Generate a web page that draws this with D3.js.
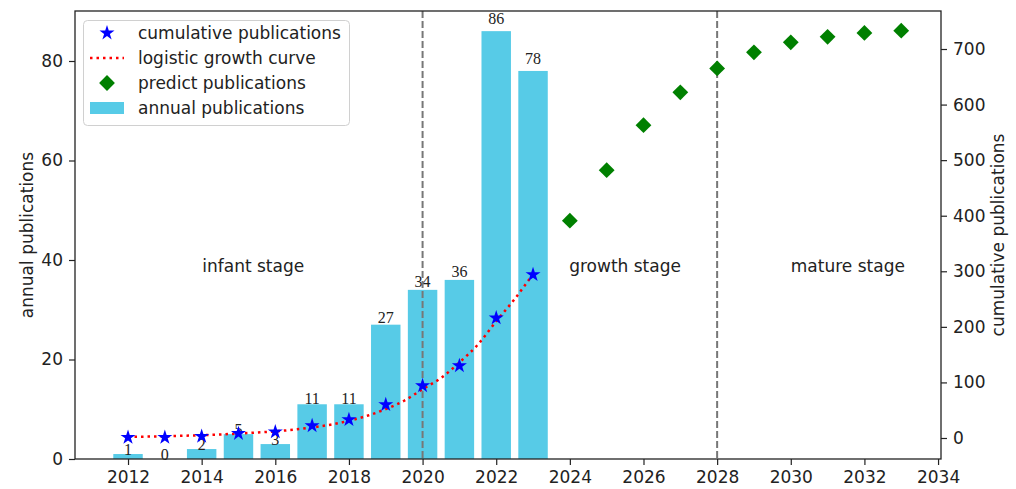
<!DOCTYPE html>
<html>
<head>
<meta charset="utf-8">
<script src="https://cdn.jsdelivr.net/npm/d3@7"></script>
<style>
body { margin: 0; background: #fff; }
text { font-family: "DejaVu Sans", sans-serif; fill: #222; }
</style>
</head>
<body>
<svg width="1016" height="489"></svg>
<script>
// data
var years = [2012, 2013, 2014, 2015, 2016, 2017, 2018, 2019, 2020, 2021, 2022, 2023];
var annual = [1, 0, 2, 5, 3, 11, 11, 27, 34, 36, 86, 78];
var cumulative = [1, 1, 3, 8, 11, 22, 33, 60, 94, 130, 216, 294];

var curveYears = [2012, 2012.5, 2013, 2013.5, 2014, 2014.5, 2015, 2015.5, 2016, 2016.5, 2017, 2017.5,
	2018, 2018.5, 2019, 2019.5, 2020, 2020.5, 2021, 2021.5, 2022, 2022.5, 2023];
var curveValues = [2, 2.5, 3, 4, 5, 6.3, 8, 9.8, 12, 15, 19, 24,
	31, 40, 52, 67, 88, 108, 136, 168, 210, 250, 295];

var predictYears = [2024, 2025, 2026, 2027, 2028, 2029, 2030, 2031, 2032, 2033];
var predictValues = [391, 482, 563, 622, 665, 694, 712, 722, 729, 733];

var xTicks = [2012, 2014, 2016, 2018, 2020, 2022, 2024, 2026, 2028, 2030, 2032, 2034];
var leftTicks = [0, 20, 40, 60, 80];
var rightTicks = [0, 100, 200, 300, 400, 500, 600, 700];

var stageLines = [2020, 2028];
var stageNames = ['infant stage', 'growth stage', 'mature stage'];
var stageX = [2015.4, 2025.5, 2031.55];
var stageY = 38.8;

var legendNames = ['cumulative publications', 'logistic growth curve', 'predict publications', 'annual publications'];

var barColor = '#57cbe7';

var svg = d3.select('svg');
var L = 75, R = 941, T = 11, B = 459;

var x = d3.scaleLinear().domain([2010.56, 2034.08]).range([L, R]);
var yL = d3.scaleLinear().domain([0, 90.05]).range([B, T]);
var yR = d3.scaleLinear().domain([-37.8, 768.4]).range([B, T]);
var bw = x(2012.4) - x(2011.6);

// bars
svg.append('g').selectAll('rect')
	.data(annual)
	.enter().append('rect')
	.attr('x', function(d, i){ return x(years[i]) - bw/2; })
	.attr('y', function(d){ return yL(d); })
	.attr('width', bw)
	.attr('height', function(d){ return B - yL(d); })
	.attr('fill', barColor);

// bar labels
svg.append('g').selectAll('text')
	.data(annual)
	.enter().append('text')
	.attr('x', function(d, i){ return x(years[i]); })
	.attr('y', function(d){ return yL(d*1.02) + 1; })
	.attr('text-anchor', 'middle')
	.style('font-family', '"Liberation Serif", serif')
	.style('font-size', '16px')
	.text(function(d){ return d; });

// stage lines
svg.append('g').selectAll('line')
	.data(stageLines)
	.enter().append('line')
	.attr('x1', function(d){ return x(d); })
	.attr('x2', function(d){ return x(d); })
	.attr('y1', T).attr('y2', B)
	.attr('stroke', '#777')
	.attr('stroke-width', 2)
	.attr('stroke-dasharray', '7,3');

// stage names
svg.append('g').selectAll('text')
	.data(stageNames)
	.enter().append('text')
	.attr('x', function(d, i){ return x(stageX[i]); })
	.attr('y', yL(stageY))
	.attr('text-anchor', 'middle')
	.attr('dominant-baseline', 'central')
	.style('font-size', '17px')
	.text(function(d){ return d; });

// logistic curve
var curvePts = curveYears.map(function(d, i){ return [d, curveValues[i]]; });
svg.append('path')
	.datum(curvePts)
	.attr('fill', 'none')
	.attr('stroke', 'red')
	.attr('stroke-width', 2.5)
	.attr('stroke-dasharray', '2.5,4')
	.attr('d', d3.line().curve(d3.curveMonotoneX)
		.x(function(d){ return x(d[0]); })
		.y(function(d){ return yR(d[1]); }));

// stars
var star = d3.symbol().type(d3.symbolStar).size(70);
svg.append('g').selectAll('path')
	.data(cumulative)
	.enter().append('path')
	.attr('d', star)
	.attr('transform', function(d, i){ return 'translate(' + x(years[i]) + ',' + yR(d) + ')'; })
	.attr('fill', 'blue');

// predicted diamonds
var diamond = d3.symbol().type(d3.symbolSquare).size(125);
svg.append('g').selectAll('path')
	.data(predictValues)
	.enter().append('path')
	.attr('d', diamond)
	.attr('transform', function(d, i){ return 'translate(' + x(predictYears[i]) + ',' + yR(d) + ') rotate(45)'; })
	.attr('fill', 'green');

// axes
var fontAx = function(g){
	g.selectAll('text').style('font-size', '17px').style('font-family', '"DejaVu Sans", sans-serif').attr('fill', '#222');
	g.selectAll('line').attr('stroke', '#222').attr('stroke-width', 1.2);
	g.select('.domain').remove();
};
svg.append('g')
	.attr('transform', 'translate(0,' + B + ')')
	.call(d3.axisBottom(x).tickValues(xTicks).tickFormat(d3.format('d')).tickSizeOuter(0).tickSize(6).tickPadding(6))
	.call(fontAx);
svg.append('g')
	.attr('transform', 'translate(' + L + ',0)')
	.call(d3.axisLeft(yL).tickValues(leftTicks).tickSizeOuter(0).tickSize(6).tickPadding(6))
	.call(fontAx);
svg.append('g')
	.attr('transform', 'translate(' + R + ',0)')
	.call(d3.axisRight(yR).tickValues(rightTicks).tickSizeOuter(0).tickSize(6).tickPadding(6))
	.call(fontAx);

// frame
svg.append('rect')
	.attr('x', L).attr('y', T)
	.attr('width', R - L).attr('height', B - T)
	.attr('fill', 'none')
	.attr('stroke', '#222')
	.attr('stroke-width', 1.3);

// axis titles
svg.append('text')
	.attr('transform', 'translate(27,' + ((T + B)/2) + ') rotate(-90)')
	.attr('text-anchor', 'middle')
	.attr('dominant-baseline', 'central')
	.style('font-size', '17px')
	.text('annual publications');
svg.append('text')
	.attr('transform', 'translate(998,' + ((T + B)/2) + ') rotate(-90)')
	.attr('text-anchor', 'middle')
	.attr('dominant-baseline', 'central')
	.style('font-size', '17px')
	.text('cumulative publications');

// legend
var lg = svg.append('g');
lg.append('rect')
	.attr('x', 83.5).attr('y', 20.5)
	.attr('width', 266).attr('height', 105)
	.attr('rx', 4)
	.attr('fill', 'white').attr('fill-opacity', 0.85)
	.attr('stroke', '#d0d0d0');
var rows = [33, 58, 83, 108];
lg.selectAll('text.lab')
	.data(legendNames)
	.enter().append('text')
	.attr('class', 'lab')
	.attr('x', 138)
	.attr('y', function(d, i){ return rows[i]; })
	.attr('dominant-baseline', 'central')
	.style('font-size', '17px')
	.text(function(d){ return d; });
lg.append('path').attr('d', star).attr('transform', 'translate(107,' + rows[0] + ')').attr('fill', 'blue');
lg.append('line')
	.attr('x1', 90).attr('x2', 124)
	.attr('y1', rows[1]).attr('y2', rows[1])
	.attr('stroke', 'red').attr('stroke-width', 2.5).attr('stroke-dasharray', '2.5,4');
lg.append('path').attr('d', diamond).attr('transform', 'translate(107,' + rows[2] + ') rotate(45)').attr('fill', 'green');
lg.append('rect')
	.attr('x', 90).attr('y', rows[3] - 6)
	.attr('width', 34).attr('height', 12)
	.attr('fill', barColor);
</script>
</body>
</html>
